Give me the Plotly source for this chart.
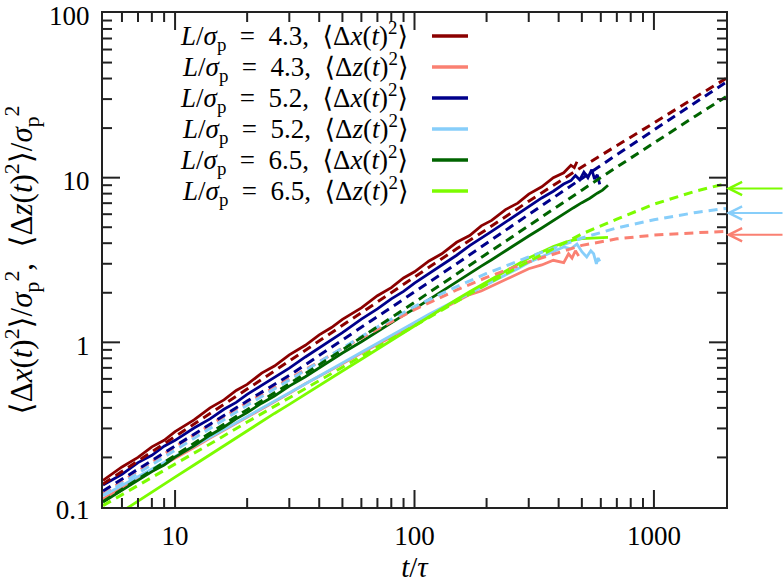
import plotly.graph_objects as go
import math

# ---------------- data ----------------
T_SIM = [5, 6, 7, 8, 9, 10, 12, 14, 16, 18, 20, 23, 26, 30, 35, 40, 45, 50, 60, 70,
         80, 90, 100, 115, 130, 150, 170, 190, 210, 240, 270, 300, 340, 380, 420]

# simulation, L/sigma_p = 4.3, <dx^2>
sim_x43_t = T_SIM + [450, 465, 477]
sim_x43 = [0.145, 0.175, 0.2, 0.232, 0.254, 0.287, 0.338, 0.4, 0.447, 0.51, 0.555, 0.65, 0.718,
           0.84, 0.96, 1.11, 1.23, 1.38, 1.62, 1.92, 2.15, 2.46, 2.68, 3.12, 3.45, 4.05, 4.45,
           5.1, 5.5, 6.4, 7.0, 7.95, 8.8, 10.0, 10.7, 11.9, 11.5, 12.5]
# simulation, 4.3, <dz^2>
sim_z43_t = T_SIM + [440, 455, 470, 485]
sim_z43 = [0.112, 0.13, 0.147, 0.165, 0.18, 0.197, 0.23, 0.262, 0.292, 0.322, 0.35, 0.395, 0.435,
           0.49, 0.56, 0.62, 0.68, 0.74, 0.86, 0.97, 1.08, 1.18, 1.3, 1.45, 1.6, 1.78, 1.95,
           2.05, 2.2, 2.4, 2.6, 2.8, 2.95, 3.15, 3.05, 3.45, 3.25, 3.6, 3.35]
# simulation, 5.2, <dx^2>
sim_x52_t = T_SIM + [450, 470, 490, 510, 530, 550, 565, 580, 594]
sim_x52 = [0.136, 0.158, 0.186, 0.206, 0.234, 0.254, 0.302, 0.343, 0.392, 0.432, 0.483, 0.547,
           0.614, 0.697, 0.815, 0.925, 1.045, 1.145, 1.385, 1.595, 1.835, 2.04, 2.29, 2.61, 2.96,
           3.38, 3.87, 4.28, 4.72, 5.37, 6.03, 6.68, 7.53, 8.27, 9.15,
           9.6, 10.3, 9.7, 10.8, 10.0, 11.2, 9.8, 10.4, 9.1]
# simulation, 5.2, <dz^2>
sim_z52_t = T_SIM + [450, 477, 500, 524, 545, 560, 575, 585, 594]
sim_z52 = [0.117, 0.135, 0.153, 0.17, 0.186, 0.203, 0.235, 0.265, 0.295, 0.325, 0.355, 0.4, 0.44,
           0.495, 0.565, 0.63, 0.69, 0.75, 0.87, 0.99, 1.1, 1.21, 1.32, 1.48, 1.62, 1.8, 1.98,
           2.15, 2.3, 2.55, 2.8, 3.05, 3.3, 3.55, 3.8,
           3.7, 3.95, 3.55, 3.3, 3.6, 3.45, 3.0, 3.25, 3.1]
# simulation, 6.5, <dx^2>
sim_x65_t = T_SIM + [460, 500, 540, 580, 610, 643]
sim_x65 = [0.107, 0.126, 0.144, 0.164, 0.18, 0.201, 0.235, 0.273, 0.306, 0.343, 0.374, 0.427,
           0.472, 0.542, 0.618, 0.703, 0.778, 0.862, 1.008, 1.163, 1.307, 1.463, 1.598, 1.825,
           2.035, 2.335, 2.615, 2.905, 3.175, 3.605, 3.995, 4.425, 4.945, 5.505, 5.995,
           6.55, 7.05, 7.5, 8.05, 8.4, 9.0]
# simulation, 6.5, <dz^2>
sim_z65_t = T_SIM + [460, 500, 540, 580, 610, 643]
sim_z65 = [0.079, 0.094, 0.109, 0.124, 0.138, 0.152, 0.18, 0.208, 0.236, 0.263, 0.29, 0.33, 0.37,
           0.42, 0.485, 0.55, 0.61, 0.67, 0.79, 0.91, 1.03, 1.14, 1.25, 1.42, 1.59, 1.82, 2.03,
           2.22, 2.42, 2.7, 2.98, 3.25, 3.55, 3.82, 4.02,
           4.18, 4.27, 4.3, 4.33, 4.32, 4.34]

# theory (dashed)
T_TH = [5, 7, 10, 15, 20, 30, 50, 70, 100, 150, 200, 300, 500, 700, 1000, 1500, 2000]
th_x43 = [0.138, 0.19, 0.268, 0.395, 0.52, 0.77, 1.27, 1.76, 2.5, 3.7, 4.85, 7.2, 11.6, 15.6, 21.5, 31, 40]
th_z43 = [0.12, 0.165, 0.232, 0.335, 0.43, 0.6, 0.92, 1.2, 1.58, 2.08, 2.48, 3.08, 3.88, 4.25, 4.48, 4.63, 4.72]
th_x52 = [0.125, 0.17, 0.235, 0.34, 0.44, 0.63, 1.03, 1.43, 2.03, 3.0, 4.0, 6.0, 9.9, 13.8, 19.5, 29, 38]
th_z52 = [0.118, 0.16, 0.222, 0.322, 0.415, 0.59, 0.93, 1.24, 1.65, 2.18, 2.62, 3.3, 4.3, 4.95, 5.55, 6.15, 6.5]
th_x65 = [0.108, 0.148, 0.205, 0.3, 0.39, 0.56, 0.9, 1.24, 1.75, 2.6, 3.45, 5.1, 8.4, 11.6, 16.3, 23.8, 31]
th_z65 = [0.102, 0.135, 0.182, 0.256, 0.328, 0.46, 0.71, 0.94, 1.27, 1.78, 2.25, 3.1, 4.55, 5.6, 6.9, 8.3, 9.2]

# plateau arrows (z components)
arrow_levels = [8.6, 6.1, 4.5]

L_values = ["4.3", "4.3", "5.2", "5.2", "6.5", "6.5"]
components = ["x", "z", "x", "z", "x", "z"]
colors = ["#8B0000", "#FA8072", "#00008B", "#87CEFA", "#006400", "#7CFC00"]
arrow_colors = ["#7CFC00", "#87CEFA", "#FA8072"]

x_ticks = [10, 100, 1000]
x_ticktext = ["10", "100", "1000"]
y_ticks = [0.1, 1, 10, 100]
y_ticktext = ["0.1", "1", "10", "100"]

sim_t = [sim_x43_t, sim_z43_t, sim_x52_t, sim_z52_t, sim_x65_t, sim_z65_t]
sim_v = [sim_x43, sim_z43, sim_x52, sim_z52, sim_x65, sim_z65]
th_v = [th_x43, th_z43, th_x52, th_z52, th_x65, th_z65]

# ---------------- figure ----------------
SERIF = "Liberation Serif, DejaVu Serif, serif"
W, H = 784, 585
ML, MR, MT, MB = 103, 58, 13, 78
SP = "\u2002"  # en space, mimics TeX math spacing
AX_COL = "#222"
XMIN, XMAX = 5, 2000
YMIN, YMAX = 0.1, 100

fig = go.Figure()
labels = []
for L, c in zip(L_values, components):
    labels.append(f"<i>L</i>/<i>σ</i><sub>p</sub>{SP}={SP}{L},{SP}⟨Δ<i>{c}</i>(<i>t</i>)<sup>2</sup>⟩")

for i in range(6):
    fig.add_trace(go.Scatter(x=sim_t[i], y=sim_v[i], mode="lines", name=labels[i],
                             line=dict(color=colors[i], width=2.8), showlegend=False))
for i in range(6):
    fig.add_trace(go.Scatter(x=T_TH, y=th_v[i], mode="lines", name=labels[i] + " (theory)",
                             line=dict(color=colors[i], width=3, dash="9px,6px"), showlegend=False))

# legend drawn as text + sample lines (text left of the sample as in the reference)
pw = W - ML - MR
ph = H - MT - MB
row_px = [36, 67, 98, 129, 160, 191]
for i, ypx in enumerate(row_px):
    yp = (H - MB - ypx) / ph
    fig.add_annotation(x=(410 - ML) / pw, y=yp, xref="paper", yref="paper", text=labels[i],
                       showarrow=False, xanchor="right", yanchor="middle",
                       font=dict(family=SERIF, size=27, color="black"))
    fig.add_shape(type="line", xref="paper", yref="paper", x0=(432 - ML) / pw, x1=(468 - ML) / pw,
                  y0=yp, y1=yp, line=dict(color=colors[i], width=3.5))

for lvl, col in zip(arrow_levels, arrow_colors):
    fig.add_annotation(x=1, xref="paper", y=math.log10(lvl), yref="y", text="",
                       showarrow=True, ax=58, ay=0, arrowhead=5, arrowsize=1.3,
                       arrowwidth=2, arrowcolor=col)

# inside tick marks on all four sides (major 17 px, minor 9 px), drawn as paper-anchored lines
x_all = [d * 10 ** e for e in range(0, 4) for d in range(1, 10)]
y_all = [d * 10 ** e for e in range(-1, 3) for d in range(1, 10)]
lx0, lx1 = math.log10(XMIN), math.log10(XMAX)
ly0, ly1 = math.log10(YMIN), math.log10(YMAX)
for v in x_all:
    if XMIN < v < XMAX:
        ln = (17 if v in x_ticks else 9) / ph
        xp = (math.log10(v) - lx0) / (lx1 - lx0)
        fig.add_shape(type="line", xref="paper", yref="paper", x0=xp, x1=xp, y0=0, y1=ln,
                      line=dict(color=AX_COL, width=2), layer="above")
        fig.add_shape(type="line", xref="paper", yref="paper", x0=xp, x1=xp, y0=1, y1=1 - ln,
                      line=dict(color=AX_COL, width=2), layer="above")
for v in y_all:
    if YMIN < v < YMAX:
        ln = (17 if v in y_ticks else 9) / pw
        yp = (math.log10(v) - ly0) / (ly1 - ly0)
        fig.add_shape(type="line", xref="paper", yref="paper", y0=yp, y1=yp, x0=0, x1=ln,
                      line=dict(color=AX_COL, width=2), layer="above")
        fig.add_shape(type="line", xref="paper", yref="paper", y0=yp, y1=yp, x0=1, x1=1 - ln,
                      line=dict(color=AX_COL, width=2), layer="above")

axis_common = dict(type="log", showgrid=False, zeroline=False, showline=True, linecolor=AX_COL,
                   linewidth=2, mirror=True, ticks="", ticklabeloverflow="allow",
                   tickfont=dict(family=SERIF, size=27, color="black"))

fig.update_xaxes(**axis_common, range=[lx0, lx1],
                 tickmode="array", tickvals=x_ticks, ticktext=x_ticktext, ticklabelstandoff=4,
                 title=dict(text="<i>t</i>/<i>τ</i>", font=dict(family=SERIF, size=29, color="black"),
                            standoff=6))
fig.update_yaxes(**axis_common, range=[ly0, ly1], ticklabelshift=3,
                 tickmode="array", tickvals=y_ticks, ticktext=y_ticktext, ticklabelstandoff=6,
                 title=dict(text=f"⟨Δ<i>x</i>(<i>t</i>)<sup>2</sup>⟩/<i>σ</i><sub>p</sub><sup>2</sup>,{SP}"
                                 "⟨Δ<i>z</i>(<i>t</i>)<sup>2</sup>⟩/<i>σ</i><sub>p</sub><sup>2</sup>",
                            font=dict(family=SERIF, size=31, color="black"), standoff=22))

fig.update_layout(width=W, height=H, margin=dict(l=ML, r=MR, t=MT, b=MB, autoexpand=False),
                  plot_bgcolor="white", paper_bgcolor="white", showlegend=False)

fig.write_html("out.html")
